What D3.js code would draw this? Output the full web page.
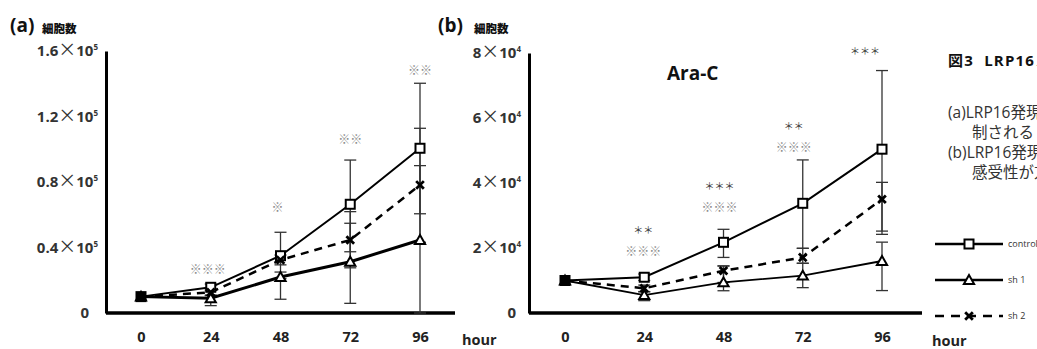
<!DOCTYPE html>
<html>
<head>
<meta charset="utf-8">
<script src="https://cdn.jsdelivr.net/npm/d3@7"></script>
<style>
body { margin: 0; background: #fff; }
svg { display: block; }
text { font-family: "Open Sans", "Noto Sans CJK JP", sans-serif; white-space: pre; }
</style>
</head>
<body>
<script>
const hours = [0, 24, 48, 72, 96];

// (a) cell count, x10^5
const aYTicks = [0, 0.4, 0.8, 1.2, 1.6];
const aYLabels = ["0", "0.4", "0.8", "1.2", "1.6"];
const aControl = [0.1, 0.157, 0.35, 0.664, 1.006];
const aSh1 = [0.1, 0.09, 0.22, 0.313, 0.446];
const aSh2 = [0.1, 0.126, 0.324, 0.446, 0.782];
const aControlUp = [0, 0.02, 0.143, 0.27, 0.397];
const aControlDn = [0, 0.02, 0.14, 0.29, 0.40];
const aSh1Up = [0, 0.02, 0.03, 0.235, 0.454];
const aSh1Dn = [0, 0.045, 0.136, 0.254, 0.446];
const aSh2Up = [0, 0.02, 0.03, 0.173, 0.346];
const aSh2Dn = [0, 0.02, 0.03, 0.17, 0.35];
const aMarks = ["", "※※※", "※", "※※", "※※"];
const aMarkLevel = [0, 0.263, 0.641, 1.057, 1.478];

// (b) cell count with Ara-C, x10^4
const bYTicks = [0, 2, 4, 6, 8];
const bYLabels = ["0", "2", "4", "6", "8"];
const bControl = [1.0, 1.10, 2.175, 3.375, 5.04];
const bSh1 = [1.0, 0.55, 0.945, 1.15, 1.60];
const bSh2 = [1.0, 0.76, 1.30, 1.71, 3.50];
const bControlUp = [0, 0.1, 0.40, 1.335, 2.42];
const bControlDn = [0, 0.1, 0.465, 1.385, 2.52];
const bSh1Up = [0, 0.1, 0.5, 0.38, 0.58];
const bSh1Dn = [0, 0.17, 0.26, 0.37, 0.91];
const bSh2Up = [0, 0.1, 0.15, 0.28, 0.52];
const bSh2Dn = [0, 0.1, 0.36, 0.18, 1.08];
const bStars = ["", "＊＊", "＊＊＊", "＊＊", "＊＊＊"];
const bStarLevel = [0, 2.55, 3.88, 5.75, 8.06];
const bMarks = ["", "※※※", "※※※", "※※※", ""];
const bMarkLevel = [0, 1.88, 3.23, 5.08, 0];

const svg = d3.select("body").append("svg")
  .attr("width", 1037)
  .attr("height", 349);

function drawPanel(o) {
  let x = d3.scaleLinear().domain([0, 96]).range(o.xRange);
  let y = d3.scaleLinear().domain([0, o.yMax]).range([313, o.yTop]);

  // y axis
  let gy = svg.append("g")
    .attr("transform", "translate(" + o.axisX + ",0)")
    .call(d3.axisLeft(y).tickValues(o.yTicks).tickSize(0).tickSizeOuter(0)
      .tickPadding(8).tickFormat(() => ""));
  gy.select(".domain").attr("stroke", "#000").attr("stroke-width", 3);
  gy.selectAll(".tick text").each(function (d, i) {
    let t = d3.select(this).attr("font-size", 15).attr("font-weight", 700).attr("fill", "#333");
    if (d === 0) { t.text("0").attr("dx", o.zeroDx); return; }
    t.append("tspan").text(o.yLabels[i]);
    t.append("tspan").attr("font-family", "Noto Sans CJK JP").attr("font-size", 18)
      .attr("font-weight", 400).text("×");
    t.append("tspan").text("10");
    t.append("tspan").attr("font-size", 8).attr("dy", -6).text(o.yExp);
  });

  // x axis
  svg.append("line")
    .attr("x1", o.axisX).attr("x2", o.axisEnd)
    .attr("y1", 313).attr("y2", 313)
    .attr("stroke", "#000").attr("stroke-width", 3.5);
  let gx = svg.append("g")
    .attr("transform", "translate(0,313)")
    .call(d3.axisBottom(x).tickValues(hours).tickSize(0).tickPadding(19));
  gx.select(".domain").remove();
  gx.selectAll(".tick text").attr("font-size", 14.5).attr("font-weight", 700).attr("fill", "#222");

  svg.append("text").attr("x", o.hourX).attr("y", o.hourY)
    .attr("font-size", 14.5).attr("font-weight", 700).attr("fill", "#222").text("hour");

  // error bars
  o.series.forEach(s => {
    s.values.forEach((v, i) => {
      if (s.up[i] === 0 && s.dn[i] === 0) return;
      let cx = x(hours[i]);
      let y1 = y(v + s.up[i]), y2 = y(Math.max(0, v - s.dn[i]));
      svg.append("line").attr("x1", cx).attr("x2", cx).attr("y1", y1).attr("y2", y2)
        .attr("stroke", "#333").attr("stroke-width", 1.3);
      [y1, y2].forEach(yy => {
        svg.append("line").attr("x1", cx - 6).attr("x2", cx + 6).attr("y1", yy).attr("y2", yy)
          .attr("stroke", "#333").attr("stroke-width", 1.3);
      });
    });
  });

  // lines
  let line = d3.line().x((d, i) => x(hours[i])).y(d => y(d));
  o.series.forEach(s => {
    svg.append("path").datum(s.values)
      .attr("d", line)
      .attr("fill", "none")
      .attr("stroke", "#000")
      .attr("stroke-width", s.width)
      .attr("stroke-dasharray", s.dash ? "8,6" : null);
  });

  // markers
  o.series.forEach(s => {
    s.values.forEach((v, i) => drawMarker(s.marker, x(hours[i]), y(v), i === 0));
  });

  // significance marks
  o.marks.forEach(m => {
    m.text.forEach((t, i) => {
      if (!t) return;
      svg.append("text")
        .attr("x", x(hours[i]) + o.markDx[i]).attr("y", y(m.level[i]))
        .attr("dy", "0.35em")
        .attr("text-anchor", "middle")
        .attr("font-family", "Noto Sans CJK JP")
        .attr("font-size", m.size)
        .attr("fill", m.color)
        .text(t);
    });
  });
}

function drawMarker(kind, cx, cy, start) {
  if (kind === "square") {
    svg.append("rect").attr("x", cx - 4.5).attr("y", cy - 4.5).attr("width", 9).attr("height", 9)
      .attr("fill", start ? "#000" : "#fff").attr("stroke", "#000").attr("stroke-width", 2);
  } else if (kind === "triangle") {
    svg.append("path").attr("d", d3.symbol(d3.symbolTriangle, 45)())
      .attr("transform", "translate(" + cx + "," + (cy + 1) + ")")
      .attr("fill", start ? "#000" : "#fff").attr("stroke", "#000").attr("stroke-width", 2);
  } else {
    svg.append("path").attr("d", d3.symbol(d3.symbolX, 40)())
      .attr("transform", "translate(" + cx + "," + cy + ")")
      .attr("fill", "none").attr("stroke", "#000").attr("stroke-width", 2.8);
  }
}

drawPanel({
  xRange: [141, 420], yMax: 1.6, yTop: 51, axisX: 106, axisEnd: 455, zeroDx: -9,
  yTicks: aYTicks, yLabels: aYLabels, yExp: "5", hourX: 462, hourY: 345,
  markDx: [0, -3, -3, 0, 0],
  series: [
    {values: aControl, up: aControlUp, dn: aControlDn, marker: "square", width: 2},
    {values: aSh2, up: aSh2Up, dn: aSh2Dn, marker: "x", width: 2.5, dash: true},
    {values: aSh1, up: aSh1Up, dn: aSh1Dn, marker: "triangle", width: 3}
  ],
  marks: [{text: aMarks, level: aMarkLevel, size: 12, color: "#8a8a8a"}]
});

drawPanel({
  xRange: [565, 882], yMax: 8, yTop: 53, axisX: 529, axisEnd: 922, zeroDx: -5,
  yTicks: bYTicks, yLabels: bYLabels, yExp: "4", hourX: 932, hourY: 346,
  markDx: [0, -1, -4, -9, -17],
  series: [
    {values: bControl, up: bControlUp, dn: bControlDn, marker: "square", width: 2},
    {values: bSh2, up: bSh2Up, dn: bSh2Dn, marker: "x", width: 2.5, dash: true},
    {values: bSh1, up: bSh1Up, dn: bSh1Dn, marker: "triangle", width: 1.8}
  ],
  marks: [
    {text: bStars, level: bStarLevel, size: 10, color: "#3a3a3a"},
    {text: bMarks, level: bMarkLevel, size: 12, color: "#8a8a8a"}
  ]
});

// panel headings
[["(a)", 10, 42], ["(b)", 438, 474]].forEach(h => {
  svg.append("text").attr("x", h[1]).attr("y", 32)
    .attr("font-size", 19).attr("font-weight", 700).attr("fill", "#111").text(h[0]);
  svg.append("text").attr("x", h[2]).attr("y", 33)
    .attr("font-family", "Noto Sans CJK JP").attr("font-size", 11.5).attr("font-weight", 900)
    .attr("fill", "#111").text("細胞数");
});

svg.append("text").attr("x", 667).attr("y", 80)
  .attr("font-size", 19).attr("font-weight", 700).attr("fill", "#111").text("Ara-C");

// figure caption on the right (runs past the page edge as in the source)
svg.append("text").attr("x", 948).attr("y", 66)
  .attr("font-family", "Noto Sans CJK JP").attr("font-size", 15).attr("font-weight", 700)
  .attr("letter-spacing", 1.2)
  .attr("fill", "#111").text("図3  LRP16ノックダウンの影響");
const captionLines = [
  ["(a)LRP16発現抑制により増殖が抑", 948, 118],
  ["制される", 972, 138],
  ["(b)LRP16発現抑制によりAra-C", 948, 158],
  ["感受性が亢進する", 972, 178]
];
captionLines.forEach(c => {
  svg.append("text").attr("x", c[1]).attr("y", c[2])
    .attr("font-family", "Noto Sans CJK JP").attr("font-size", 15.5).attr("fill", "#333").text(c[0]);
});

// legend
const legendNames = ["control", "sh 1", "sh 2"];
const legendMarkers = ["square", "triangle", "x"];
const legendDash = [false, false, true];
legendNames.forEach((n, i) => {
  let ly = 244 + i * 36;
  svg.append("line").attr("x1", 935).attr("x2", 1003).attr("y1", ly).attr("y2", ly)
    .attr("stroke", "#000").attr("stroke-width", 2.5)
    .attr("stroke-dasharray", legendDash[i] ? "9,7" : null);
  drawMarker(legendMarkers[i], 969, ly, false);
  svg.append("text").attr("x", 1008).attr("y", ly).attr("dy", "0.35em")
    .attr("font-size", 9).attr("fill", "#333").text(n);
});
</script>
</body>
</html>
